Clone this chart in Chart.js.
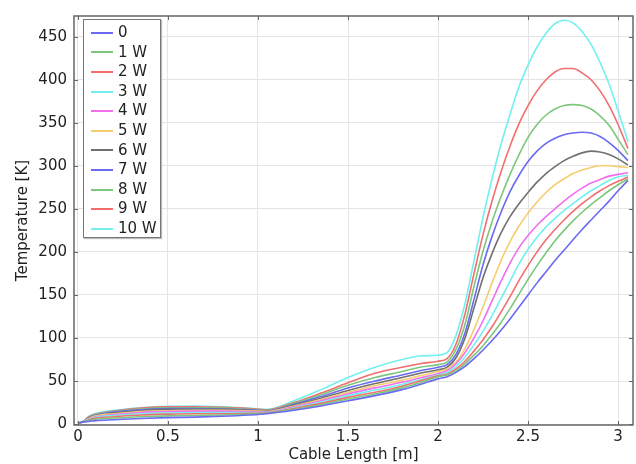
<!DOCTYPE html>
<html>
<head>
<meta charset="utf-8">
<script src="https://cdn.jsdelivr.net/npm/chart.js@4"></script>
<style>
  body { margin: 0; background: #fff; }
  #wrap { position: relative; width: 636px; height: 464px; }
  #legend {
    position: absolute; left: 83px; top: 19px; width: 78px; height: 219px;
    border: 1px solid #777; background: #fff; box-shadow: 1px 1px 1px #bbb;
    font-family: "DejaVu Sans", sans-serif; font-size: 15px; color: #222;
    box-sizing: border-box; padding-top: 3px;
  }
  .item { height: 19.6px; line-height: 19.6px; display: flex; align-items: center; }
  .swatch { width: 22px; height: 2px; margin-left: 7px; margin-right: 5px; }
</style>
</head>
<body>
<div id="wrap">
  <canvas id="tempChart" width="636" height="464"></canvas>
  <div id="legend"></div>
</div>
<script>
// Cable length positions [m]
const lengths = [0, 0.03, 0.06, 0.1, 0.2, 0.35, 0.5, 0.65, 0.8, 0.95, 1.05, 1.2, 1.35, 1.5, 1.65, 1.8, 1.9, 2.0,
  2.05, 2.1, 2.15, 2.2, 2.25, 2.3, 2.35, 2.4, 2.45, 2.5, 2.55, 2.6, 2.65, 2.7, 2.75, 2.8, 2.85, 2.9, 2.95, 3.0, 3.055];

// Temperature [K] for each heat load
const temp0 = [1, 2.5, 3, 4, 5, 6.5, 7.5, 8, 9, 10.5, 12, 16, 21, 27, 33, 40, 46, 52.5,
  55, 60, 67, 76, 86, 97, 109, 122, 136, 150, 164, 177, 190, 202, 214, 226, 237, 248, 259, 271, 283];
const temp1 = [1, 2.5, 4, 5.5, 7, 8.5, 9.5, 10, 10.5, 11.5, 12.5, 17, 22.5, 29, 35, 42, 48, 55,
  57, 62, 70, 80, 91, 104, 118, 134, 151, 168, 184, 199, 213, 225, 236, 246, 255, 263, 271, 278, 285];
const temp2 = [1, 2.5, 5, 7, 8.5, 10.5, 11.5, 12, 12, 12.5, 13, 18, 24, 31, 37, 44, 50, 56,
  58, 64, 73, 85, 98, 113, 130, 148, 167, 184, 200, 214, 226, 237, 247, 256, 264, 271, 277, 282, 287];
const temp3 = [1, 3, 5.5, 8, 10, 12, 13, 13.5, 13.5, 13.5, 13.5, 19, 25.5, 33, 39.5, 46, 51.5, 57,
  60, 67, 78, 92, 108, 126, 146, 166, 186, 203, 217, 229, 239, 248, 256, 264, 271, 277, 283, 287, 289];
const temp4 = [1, 3, 6, 8.5, 11, 13.5, 14.5, 15, 15, 14.5, 14, 20, 27, 35, 42, 48.5, 53.5, 58.5,
  62, 70, 83, 100, 120, 143, 166, 187, 205, 219, 231, 241, 250, 259, 267, 274, 280, 284, 288, 290, 292];
const temp5 = [1, 3, 6.5, 9.5, 12, 14.5, 15.5, 16, 16, 15.5, 14.5, 21, 28.5, 37, 44.5, 51, 56, 61,
  64, 72, 88, 110, 136, 164, 190, 212, 230, 245, 258, 269, 278, 285, 291, 295, 298, 300, 300, 299, 298];
const temp6 = [1, 3, 7, 10, 13, 15.5, 17, 17, 17, 16, 15, 22, 30, 39, 47, 54, 59, 63,
  66, 77, 100, 135, 170, 198, 222, 241, 256, 269, 281, 291, 299, 306, 311, 315, 317, 316, 313, 308, 301];
const temp7 = [1, 3, 7.5, 10.5, 14, 16.5, 18, 18, 17.5, 16.5, 15.5, 23, 32, 42, 50, 57, 62, 66,
  69, 81, 106, 145, 185, 218, 246, 270, 289, 305, 317, 326, 332, 336, 338, 339, 338, 334, 327, 318, 306];
const temp8 = [1, 3, 8, 11, 14.5, 17.5, 19, 19, 18.5, 17, 16, 24, 34, 45, 54, 61, 66, 69,
  72, 87, 116, 160, 201, 235, 264, 290, 313, 333, 348, 359, 366, 370, 371, 370, 366, 358, 347, 331, 313];
const temp9 = [1, 3, 8.5, 11.5, 15, 18.5, 20, 20, 19.5, 18, 16.5, 25, 36, 48, 59, 66, 70, 73,
  76, 93, 128, 175, 220, 259, 293, 323, 349, 370, 387, 400, 409, 413, 413, 408, 400, 387, 370, 348, 320];
const temp10 = [1, 3, 9, 12.5, 16, 19, 20.5, 21, 20, 18.5, 17, 27, 40, 54, 66, 75, 79, 80,
  83, 103, 140, 190, 240, 285, 325, 360, 392, 417, 438, 454, 465, 469, 466, 456, 441, 420, 395, 364, 328];

const seriesLabels = ["0", "1 W", "2 W", "3 W", "4 W", "5 W", "6 W", "7 W", "8 W", "9 W", "10 W"];
const seriesTemps = [temp0, temp1, temp2, temp3, temp4, temp5, temp6, temp7, temp8, temp9, temp10];

// COMSOL-like color cycle
const lineColors = [
  "#6a6af2", "#7cc77c", "#f26e6e", "#72f0f0", "#f06ef0", "#f5cd6e", "#707070",
  "#6a6af2", "#7cc77c", "#f26e6e", "#72f0f0",
];

const datasets = seriesTemps.map(function (temps, i) {
  return {
    label: seriesLabels[i],
    data: temps.map(function (t, j) { return { x: lengths[j], y: t }; }),
    borderColor: lineColors[i],
    borderWidth: 1.6,
    pointRadius: 0,
    cubicInterpolationMode: "monotone",
    fill: false,
  };
});

// frame and inward tick marks
const framePlugin = {
  id: "frame",
  afterDraw(chart) {
    const ctx = chart.ctx;
    const a = chart.chartArea;
    const xs = chart.scales.x;
    const ys = chart.scales.y;
    ctx.save();
    ctx.strokeStyle = "#666";
    ctx.lineWidth = 1.5;
    ctx.strokeRect(a.left, a.top, a.right - a.left, a.bottom - a.top);
    ctx.lineWidth = 1;
    ctx.beginPath();
    xs.ticks.forEach(function (t) {
      const px = Math.round(xs.getPixelForValue(t.value)) + 0.5;
      ctx.moveTo(px, a.bottom); ctx.lineTo(px, a.bottom - 4);
      ctx.moveTo(px, a.top); ctx.lineTo(px, a.top + 4);
    });
    ys.ticks.forEach(function (t) {
      const py = Math.round(ys.getPixelForValue(t.value)) + 0.5;
      ctx.moveTo(a.left, py); ctx.lineTo(a.left + 4, py);
      ctx.moveTo(a.right, py); ctx.lineTo(a.right - 4, py);
    });
    ctx.stroke();
    ctx.restore();
  },
};

const font = { family: "DejaVu Sans", size: 15 };

new Chart(document.getElementById("tempChart"), {
  type: "line",
  data: { datasets: datasets },
  options: {
    responsive: false,
    animation: false,
    layout: { padding: { top: 9, right: 3, left: 14, bottom: 0 } },
    plugins: { legend: { display: false }, tooltip: { enabled: false } },
    scales: {
      x: {
        type: "linear",
        min: -0.022,
        max: 3.083,
        afterFit: function (s) { s.height = 39; },
        grid: { color: "#e4e4e4", drawTicks: false },
        border: { display: false },
        ticks: {
          stepSize: 0.5,
          includeBounds: false,
          padding: 3,
          color: "#222",
          font: font,
          callback: function (v) { return String(v); },
        },
        title: {
          display: true,
          text: "Cable Length [m]",
          color: "#222",
          font: font,
          padding: { top: 0, bottom: 0 },
        },
      },
      y: {
        min: -1.1,
        max: 474,
        afterFit: function (s) { s.width = 60; },
        grid: { color: "#e4e4e4", drawTicks: false },
        border: { display: false },
        ticks: {
          stepSize: 50,
          includeBounds: false,
          padding: 7,
          color: "#222",
          font: font,
        },
        title: {
          display: true,
          text: "Temperature [K]",
          color: "#222",
          font: font,
          padding: { top: 0, bottom: 4 },
        },
      },
    },
  },
  plugins: [framePlugin],
});

// legend box inside the plot
const legendBox = document.getElementById("legend");
seriesLabels.forEach(function (name, i) {
  const row = document.createElement("div");
  row.className = "item";
  const sw = document.createElement("span");
  sw.className = "swatch";
  sw.style.background = lineColors[i];
  const txt = document.createElement("span");
  txt.textContent = name;
  row.appendChild(sw);
  row.appendChild(txt);
  legendBox.appendChild(row);
});
</script>
</body>
</html>
